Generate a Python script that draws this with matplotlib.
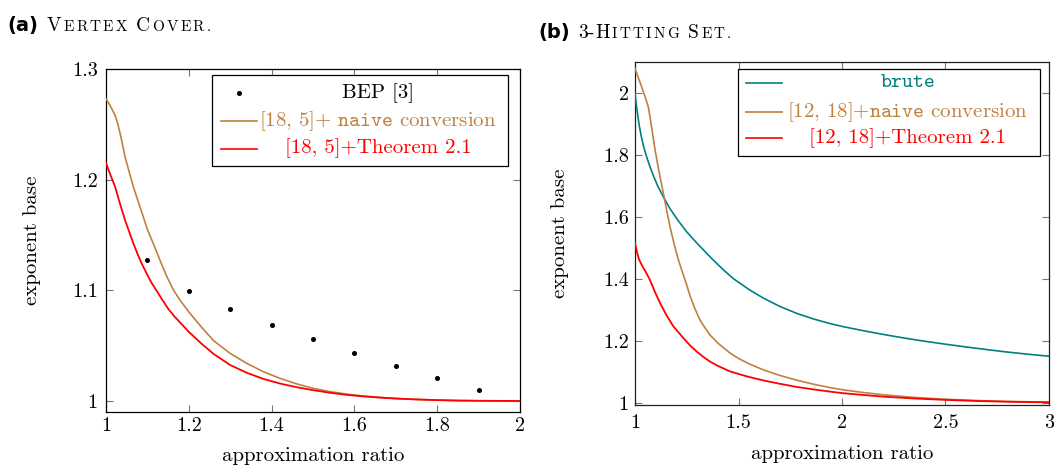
import matplotlib
matplotlib.use("Agg")
import matplotlib.pyplot as plt
from matplotlib.patches import Rectangle
from matplotlib.lines import Line2D

plt.rcParams['font.family'] = ['cmr10', 'DejaVu Serif']
plt.rcParams['mathtext.fontset'] = 'cm'
plt.rcParams['axes.formatter.use_mathtext'] = True
plt.rcParams['axes.unicode_minus'] = False

# ---------------- data: (a) Vertex Cover ----------------
bep_x = [1.1, 1.2, 1.3, 1.4, 1.5, 1.6, 1.7, 1.8, 1.9]
bep_y = [1.127, 1.099, 1.083, 1.069, 1.056, 1.043, 1.032, 1.021, 1.010]

vc_naive_x = [1.0, 1.01, 1.022, 1.028, 1.034, 1.04, 1.046, 1.056, 1.066, 1.078, 1.09, 1.1,
              1.114, 1.13, 1.147, 1.163, 1.179, 1.2, 1.23, 1.26, 1.3, 1.34, 1.38, 1.42,
              1.46, 1.5, 1.54, 1.58, 1.62, 1.66, 1.7, 1.75, 1.8, 1.85, 1.9, 2.0]
vc_naive_y = [1.273, 1.267, 1.258, 1.251, 1.242, 1.2315, 1.2207, 1.207, 1.1936, 1.18, 1.1665,
              1.155, 1.1425, 1.1275, 1.1123, 1.1003, 1.091, 1.0805, 1.067, 1.0545, 1.043,
              1.034, 1.0265, 1.0205, 1.0155, 1.0115, 1.0085, 1.0063, 1.0046, 1.0033, 1.0023,
              1.0014, 1.0008, 1.0004, 1.0002, 1.0]

vc_thm_x = [1.0, 1.01, 1.022, 1.034, 1.046, 1.056, 1.066, 1.076, 1.086, 1.1, 1.11, 1.12,
            1.135, 1.15, 1.165, 1.18, 1.2, 1.23, 1.26, 1.3, 1.34, 1.38, 1.42, 1.46, 1.5,
            1.54, 1.58, 1.62, 1.66, 1.7, 1.75, 1.8, 1.85, 1.9, 2.0]
vc_thm_y = [1.215, 1.205, 1.1936, 1.178, 1.1635, 1.153, 1.1425, 1.133, 1.1244, 1.1138,
            1.1068, 1.101, 1.092, 1.0835, 1.0765, 1.0705, 1.0625, 1.052, 1.0425, 1.0325,
            1.0255, 1.020, 1.0158, 1.0125, 1.0098, 1.0075, 1.0056, 1.0042, 1.0031, 1.0022,
            1.0014, 1.0008, 1.0004, 1.0002, 1.0]

vc_xticks = [1, 1.2, 1.4, 1.6, 1.8, 2]
vc_xticklabels = ["1", "1.2", "1.4", "1.6", "1.8", "2"]
vc_yticks = [1, 1.1, 1.2, 1.3]
vc_yticklabels = ["1", "1.1", "1.2", "1.3"]

# ---------------- data: (b) 3-Hitting Set ----------------
hs_brute_x = [1.0, 1.005, 1.01, 1.02, 1.03, 1.04, 1.055, 1.07, 1.088, 1.11, 1.137, 1.17,
              1.21, 1.25, 1.3, 1.34, 1.378, 1.43, 1.475, 1.55, 1.62, 1.7, 1.78, 1.86,
              1.94, 2.0, 2.1, 2.2, 2.3, 2.4, 2.5, 2.6, 2.7, 2.8, 2.9, 3.0]
hs_brute_y = [2.0, 1.97, 1.945, 1.897, 1.862, 1.832, 1.797, 1.767, 1.735, 1.700, 1.665,
              1.626, 1.587, 1.552, 1.515, 1.487, 1.461, 1.4275, 1.401, 1.366, 1.338, 1.311,
              1.289, 1.271, 1.256, 1.2465, 1.233, 1.2205, 1.209, 1.1985, 1.189, 1.180,
              1.1715, 1.1635, 1.1565, 1.150]

hs_naive_x = [1.0, 1.016, 1.032, 1.048, 1.064, 1.072, 1.08, 1.088, 1.097, 1.109, 1.121,
              1.137, 1.153, 1.169, 1.19, 1.209, 1.23, 1.25, 1.266, 1.29, 1.314, 1.34,
              1.362, 1.4, 1.43, 1.46, 1.5, 1.55, 1.62, 1.7, 1.78, 1.86, 1.94, 2.0, 2.1,
              2.2, 2.35, 2.5, 2.65, 2.8, 3.0]
hs_naive_y = [2.08, 2.05, 2.021, 1.99, 1.957, 1.925, 1.892, 1.855, 1.817, 1.772, 1.730,
              1.677, 1.622, 1.569, 1.51, 1.463, 1.42, 1.38, 1.345, 1.303, 1.267, 1.24,
              1.219, 1.193, 1.176, 1.160, 1.143, 1.126, 1.106, 1.088, 1.073, 1.060, 1.049,
              1.042, 1.033, 1.0255, 1.017, 1.011, 1.007, 1.004, 1.002]

hs_thm_x = [1.0, 1.01, 1.02, 1.035, 1.05, 1.072, 1.095, 1.121, 1.15, 1.185, 1.217, 1.24,
            1.266, 1.3, 1.33, 1.362, 1.4, 1.459, 1.54, 1.62, 1.7, 1.78, 1.86, 1.94, 2.0,
            2.1, 2.2, 2.35, 2.5, 2.65, 2.8, 3.0]
hs_thm_y = [1.517, 1.485, 1.462, 1.442, 1.425, 1.397, 1.36, 1.322, 1.285, 1.247, 1.222,
            1.204, 1.185, 1.164, 1.148, 1.133, 1.119, 1.101, 1.085, 1.072, 1.061, 1.051,
            1.043, 1.036, 1.031, 1.025, 1.0195, 1.0135, 1.009, 1.0055, 1.003, 1.001]

hs_xticks = [1, 1.5, 2, 2.5, 3]
hs_xticklabels = ["1", "1.5", "2", "2.5", "3"]
hs_yticks = [1, 1.2, 1.4, 1.6, 1.8, 2]
hs_yticklabels = ["1", "1.2", "1.4", "1.6", "1.8", "2"]

BROWN = "#bf8040"
TEAL = "#008080"
RED = "#ff0000"

W, H = 1054, 466
fig = plt.figure(figsize=(W / 100, H / 100), dpi=100)

ax1 = fig.add_axes([106 / W, (H - 412) / H, 414 / W, 343 / H])
ax2 = fig.add_axes([635 / W, (H - 405) / H, 414 / W, 343 / H])


def style(ax, xt, xl, yt, yl, xpad, ypad, spine_color):
    ax.set_xticks(xt, xl)
    ax.set_yticks(yt, yl)
    ax.minorticks_off()
    ax.tick_params(direction='in', top=True, right=True, length=5, width=0.8,
                   color='#777777', labelsize=14.5)
    ax.tick_params(axis='x', pad=xpad)
    ax.tick_params(axis='y', pad=ypad)
    for s in ax.spines.values():
        s.set_linewidth(0.9)
        s.set_color(spine_color)


# ---- left panel ----
ax1.plot(vc_naive_x, vc_naive_y, color=BROWN, lw=1.2, zorder=3)
ax1.plot(vc_thm_x, vc_thm_y, color=RED, lw=1.3, zorder=3)
ax1.plot(bep_x, bep_y, linestyle='none', marker='o', ms=2.6, color='black', zorder=4)
ax1.set_xlim(1, 2)
ax1.set_ylim(0.99006, 1.3)
style(ax1, vc_xticks, vc_xticklabels, vc_yticks, vc_yticklabels, 3.5, 6.0, 'black')
ax1.set_xlabel("approximation ratio", fontsize=15)
ax1.set_ylabel("exponent base", fontsize=15)
ax1.xaxis.set_label_coords(0.5, -0.102)
ax1.yaxis.set_label_coords(-0.157, 0.5)

# ---- right panel ----
ax2.plot(hs_brute_x, hs_brute_y, color=TEAL, lw=1.2, zorder=3)
ax2.plot(hs_naive_x, hs_naive_y, color=BROWN, lw=1.2, zorder=3)
ax2.plot(hs_thm_x, hs_thm_y, color=RED, lw=1.3, zorder=3)
ax2.set_xlim(1, 3)
ax2.set_ylim(0.9925, 2.101)
style(ax2, hs_xticks, hs_xticklabels, hs_yticks, hs_yticklabels, 6.5, 4.5, '#222222')
ax2.set_xlabel("approximation ratio", fontsize=15)
ax2.set_ylabel("exponent base", fontsize=15)
ax2.xaxis.set_label_coords(0.5, -0.1166)
ax2.yaxis.set_label_coords(-0.159, 0.5)


def manual_legend(ax, box, rows, sample, text_x):
    x0, y0, x1, y1 = box
    ax.add_patch(Rectangle((x0, y0), x1 - x0, y1 - y0, transform=ax.transAxes,
                           facecolor='white', edgecolor='black', lw=0.9, zorder=5,
                           clip_on=False))
    for y, kind, color, label, tcolor, fam in rows:
        if kind == 'marker':
            ax.add_line(Line2D([(sample[0] + sample[1]) / 2], [y], transform=ax.transAxes,
                               marker='o', ms=2.6, color=color, linestyle='none',
                               zorder=6, clip_on=False))
        else:
            ax.add_line(Line2D([sample[0], sample[1]], [y, y], transform=ax.transAxes,
                               color=color, lw=1.2, zorder=6, clip_on=False))
        ax.text(text_x, y, label, transform=ax.transAxes, ha='center', va='center',
                fontsize=15, color=tcolor, family=fam, zorder=6)


manual_legend(ax1, (0.256, 0.717, 0.971, 0.9825),
              [(0.9286, 'marker', 'black', "BEP [3]", 'black', ['cmr10', 'DejaVu Serif']),
               (0.848, 'line', BROWN, r"[18, 5]+ $\mathtt{naive}$ conversion", BROWN,
                ['cmr10', 'DejaVu Serif']),
               (0.768, 'line', RED, "[18, 5]+Theorem 2.1", RED, ['cmr10', 'DejaVu Serif'])],
              (0.277, 0.364), 0.657)

manual_legend(ax2, (0.2495, 0.726, 0.978, 0.98),
              [(0.938, 'line', TEAL, "brute", TEAL, ['cmtt10', 'DejaVu Sans Mono']),
               (0.855, 'line', BROWN, r"[12, 18]+$\mathtt{naive}$ conversion", BROWN,
                ['cmr10', 'DejaVu Serif']),
               (0.7776, 'line', RED, "[12, 18]+Theorem 2.1", RED, ['cmr10', 'DejaVu Serif'])],
              (0.268, 0.354), 0.659)

# ---- captions with emulated small caps ----
renderer = fig.canvas.get_renderer()


def caption(x_px, base_px, pieces):
    x = x_px
    for item in pieces:
        if isinstance(item, (int, float)):
            x += item
            continue
        s, size, fam, weight = item
        t = fig.text(x / W, base_px / H, s, fontsize=size, family=fam, weight=weight,
                     va='baseline', ha='left')
        bb = t.get_window_extent(renderer)
        x = bb.x1


def sc(word, big, small, gap):
    out = []
    for i, ch in enumerate(word):
        if i == 0 and ch.isupper():
            out.append((ch, big, ['cmr10', 'DejaVu Serif'], 'normal'))
        else:
            out.append((ch.upper(), small, ['cmr10', 'DejaVu Serif'], 'normal'))
        out.append(gap)
    return out


BIG, SMALL, GAP, WORD = 14, 11, 2.2, 7
cap_a = ([("(a)", 14, ['DejaVu Sans'], 'bold'), 9] + sc("Vertex", BIG, SMALL, GAP) + [WORD]
         + sc("Cover.", BIG, SMALL, GAP))
cap_b = ([("(b)", 14, ['DejaVu Sans'], 'bold'), 9] + [("3-", BIG, ['cmr10', 'DejaVu Serif'], 'normal')]
         + sc("Hitting", BIG, SMALL, GAP) + [WORD] + sc("Set.", BIG, SMALL, GAP))
caption(7, H - 30.7, cap_a)
caption(538, H - 38.3, cap_b)

fig.savefig("out.png", dpi=100)
